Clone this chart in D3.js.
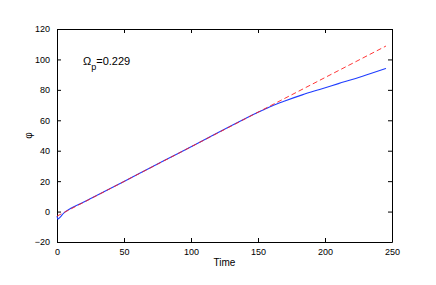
<!DOCTYPE html>
<html>
<head>
<meta charset="utf-8">
<script src="https://cdn.jsdelivr.net/npm/d3@7"></script>
<style>
  body { margin: 0; background: #fff; }
  text { font-family: "Liberation Sans", Arial, sans-serif; fill: #000; }
</style>
</head>
<body>
<div id="chart-container"></div>
<script>
// data
var xTicks = [0, 50, 100, 150, 200, 250];
var yTicks = [-20, 0, 20, 40, 60, 80, 100, 120];

// simulated phase (blue, solid)
var simTime = [0, 0.7, 2, 5, 10, 20, 35, 50, 70, 90, 110, 130, 145, 150, 155, 160, 170, 183, 196, 210, 228, 245.5];
var simPhi  = [-3, -5, -4, -1, 2, 6.3, 13, 19.8, 29, 38, 47.2, 56.4, 63.1, 65.3, 67.3, 69.3, 72.7, 76.7, 80.3, 84.1, 89.0, 94.1];

// linear fit (red, dashed)
var fitTime = [0, 245.5];
var fitPhi  = [-3, 108.8];

var width = 436, height = 285;
var margin = {top: 29, right: 44, bottom: 43, left: 57};

var svg = d3.select("#chart-container")
  .append("svg")
    .attr("width", width)
    .attr("height", height)
    .style("background", "#fff");

var g = svg.append("g").attr("transform", "translate(" + margin.left + "," + margin.top + ")");
var w = width - margin.left - margin.right,
    h = height - margin.top - margin.bottom;

var xScale = d3.scaleLinear().domain([0, 250]).range([0, w]);
var yScale = d3.scaleLinear().domain([-20, 120]).range([h, 0]);

// axes, matlab style: ticks inward, box on
g.append("g")
  .attr("transform", "translate(0," + h + ")")
  .call(d3.axisBottom(xScale).tickValues(xTicks).tickSizeInner(-4).tickSizeOuter(0).tickPadding(7));
g.append("g")
  .call(d3.axisTop(xScale).tickValues(xTicks).tickSizeInner(-4).tickSizeOuter(0).tickFormat(""));
g.append("g")
  .call(d3.axisLeft(yScale).tickValues(yTicks).tickSizeInner(-4).tickSizeOuter(0).tickPadding(7)
    .tickFormat(function (d) { return d < 0 ? "\u2212" + Math.abs(d) : d; }));
g.append("g")
  .attr("transform", "translate(" + w + ",0)")
  .call(d3.axisRight(yScale).tickValues(yTicks).tickSizeInner(-4).tickSizeOuter(0).tickFormat(""));

g.selectAll(".domain").attr("stroke", "#000").attr("stroke-width", 1);
g.selectAll(".tick line").attr("stroke", "#000");
g.selectAll(".tick text").style("font-size", "9px").attr("fill", "#000");

var line = d3.line()
  .curve(d3.curveMonotoneX)
  .x(function (d) { return xScale(d[0]); })
  .y(function (d) { return yScale(d[1]); });

g.append("path")
  .datum(d3.zip(simTime, simPhi))
  .attr("d", line)
  .attr("fill", "none")
  .attr("stroke", "#1f3dff")
  .attr("stroke-width", 1.1);

g.append("path")
  .datum(d3.zip(fitTime, fitPhi))
  .attr("d", line)
  .attr("fill", "none")
  .attr("stroke", "#ff2020")
  .attr("stroke-width", 0.9)
  .attr("stroke-dasharray", "5,3");

// labels
svg.append("text")
  .attr("x", margin.left + w / 2)
  .attr("y", 266)
  .attr("text-anchor", "middle")
  .style("font-size", "10px")
  .text("Time");

svg.append("text")
  .attr("transform", "translate(32," + (margin.top + h / 2) + ") rotate(-90)")
  .attr("text-anchor", "middle")
  .style("font-size", "10px")
  .text("\u03c6");

var ann = svg.append("text")
  .attr("x", 83)
  .attr("y", 65)
  .style("font-size", "11px");
ann.append("tspan").text("\u03a9");
ann.append("tspan").attr("dy", 5).style("font-size", "9px").text("p");
ann.append("tspan").attr("dy", -5).text("=0.229");
</script>
</body>
</html>
